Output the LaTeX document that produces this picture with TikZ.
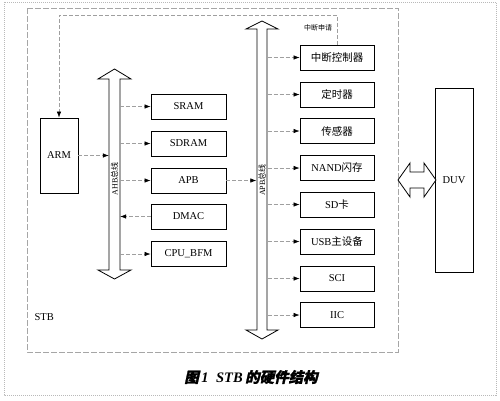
\documentclass[tikz,border=0pt]{standalone}
\usepackage{fontspec}
\setmainfont{Liberation Serif}
\newfontfamily\cjk{Noto Sans CJK SC}
\newfontfamily\cjkcap[FakeSlant=0.22,FakeBold=1.5]{Noto Sans CJK SC}
\usetikzlibrary{arrows.meta}
\begin{document}
\begin{tikzpicture}[x=1pt,y=-1pt,
  box/.style={draw=black,line width=0.9pt,inner sep=0pt,font=\fontsize{10.5}{12}\selectfont},
  abox/.style={box,minimum width=75pt,minimum height=25pt},
  pbox/.style={box,minimum width=74pt,minimum height=25pt},
  conn/.style={draw=gray!75,line width=0.6pt,dash pattern=on 4pt off 2pt,-{Latex[length=6pt,width=4.5pt,black]}},
  bus/.style={draw=black,line width=0.8pt,fill=white,line join=miter},
  frame/.style={draw=gray!55,line width=0.6pt,dash pattern=on 1pt off 1pt},
  stbbox/.style={draw=gray!70,line width=0.6pt,dash pattern=on 6pt off 2pt},
  shaft/.style={inner sep=0pt,minimum width=11pt}
]
\useasboundingbox (0,0) rectangle (500,400);
\draw[frame] (4,2) rectangle (496,395);
\draw[stbbox] (27,8) rectangle (398,352);

% ARM
\node[box,minimum width=38pt,minimum height=75pt] (arm) at (59,155.5) {ARM};

% AHB bus
\draw[bus] (109,79) -- (98,79) -- (114.5,69) -- (131,79) -- (120,79) -- (120,270) -- (131,270) -- (114.5,279) -- (98,270) -- (109,270) -- cycle;
\node[shaft,minimum height=191pt] (ahb) at (114.5,174.5) {};
\node[rotate=90,font=\fontsize{8}{9}\selectfont] (ahblbl) at (114.5,179) {AHB{\cjk 总线}};

% AHB devices
\node[abox] (sram) at (188.5,106.5) {SRAM};
\node[abox] (sdram) at (188.5,143.5) {SDRAM};
\node[abox] (apb) at (188.5,180.5) {APB};
\node[abox] (dmac) at (188.5,216.5) {DMAC};
\node[abox] (cpubfm) at (188.5,254) {CPU\_BFM};

% APB bus
\draw[bus] (257,29) -- (246,29) -- (262,21) -- (278,29) -- (267,29) -- (267,330) -- (278,330) -- (262,339) -- (246,330) -- (257,330) -- cycle;
\node[shaft,minimum height=301pt] (apbbus) at (262,179.5) {};
\node[rotate=90,font=\fontsize{8}{9}\selectfont] (apblbl) at (262,180) {APB{\cjk 总线}};

% APB devices
\node[pbox,font=\cjk\fontsize{10.5}{12}\selectfont] (intc) at (337,57.5) {中断控制器};
\node[pbox,font=\cjk\fontsize{10.5}{12}\selectfont] (timer) at (337,94.5) {定时器};
\node[pbox,font=\cjk\fontsize{10.5}{12}\selectfont] (sensor) at (337,131) {传感器};
\node[pbox] (nand) at (337,168) {NAND{\cjk 闪存}};
\node[pbox] (sd) at (337,204.5) {SD{\cjk 卡}};
\node[pbox] (usb) at (337,241.5) {USB{\cjk 主设备}};
\node[pbox] (sci) at (337,278.5) {SCI};
\node[pbox] (iic) at (337,315) {IIC};

% DUV
\node[box,minimum width=38pt,minimum height=184pt] (duv) at (454,180) {DUV};
\draw[bus] (398,180) -- (410,163) -- (410,172) -- (424,172) -- (424,163) -- (436,180) -- (424,197) -- (424,188) -- (410,188) -- (410,197) -- cycle;

% connectors
\draw[conn] (arm.east) -- (arm.east -| ahb.west);
\draw[conn] (ahb.east |- sram.west) -- (sram.west);
\draw[conn] (ahb.east |- sdram.west) -- (sdram.west);
\draw[conn] (ahb.east |- apb.west) -- (apb.west);
\draw[conn] (dmac.west) -- (dmac.west -| ahb.east);
\draw[conn] (ahb.east |- cpubfm.west) -- (cpubfm.west);
\draw[conn] (apb.east) -- (apb.east -| apbbus.west);
\foreach \n in {intc,timer,sensor,nand,sd,usb,sci,iic}
  \draw[conn] (apbbus.east |- \n.west) -- (\n.west);

% interrupt request
\coordinate (irq) at (59,15);
\draw[conn] (intc.north) |- (irq) -- (arm.north);
\node[font=\cjk\fontsize{7}{8}\selectfont] (irqlbl) at (318,28) {中断申请};

% labels
\node[font=\fontsize{10.5}{12}\selectfont,anchor=west] (stblbl) at (31,317) {STB};
\node[font=\fontsize{14.5}{16}\selectfont\bfseries\itshape] (caption) at (251,377) {{\cjkcap 图}\,1\; STB\,{\cjkcap 的硬件结构}};
\end{tikzpicture}
\end{document}
